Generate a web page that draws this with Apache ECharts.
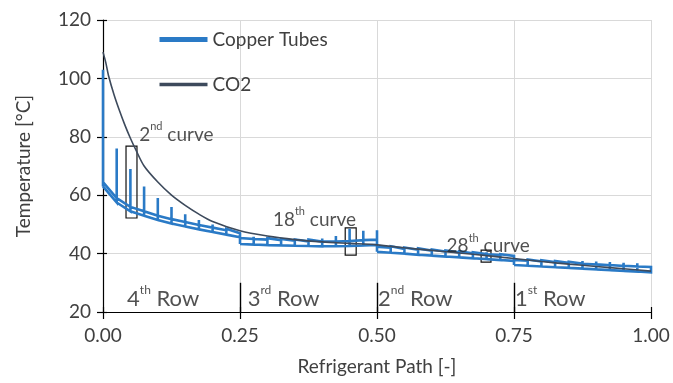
<!DOCTYPE html>
<html><head><meta charset="utf-8">
<script src="https://cdn.jsdelivr.net/npm/echarts@6/dist/echarts.min.js"></script>
<style>html,body{margin:0;padding:0;background:#fff}#c{width:673px;height:383px}</style>
</head><body><div id="c"></div>
<script>
// ---- data ----
const xTicks = [0, 0.25, 0.5, 0.75, 1.0];
const yTicks = [20, 40, 60, 80, 100, 120];
const bendX = [0.000,0.025,0.050,0.075,0.100,0.125,0.150,0.175,0.200,0.225,
               0.250,0.275,0.300,0.325,0.350,0.375,0.400,0.425,0.450,0.475,
               0.500,0.525,0.550,0.575,0.600,0.625,0.650,0.675,0.700,0.725,
               0.750,0.775,0.800,0.825,0.850,0.875,0.900,0.925,0.950,0.975,1.000];
// copper tube temperature per row: lower / upper band at bends, peak at bend (curve)
const row4Lower = [63, 57.5, 54.5, 53, 51.5, 50.3, 49.3, 48.3, 47.4, 46.5, 45.6];
const row4Upper = [64.5, 59, 56, 54.5, 53, 51.8, 50.8, 49.8, 48.9, 48, 47];
const row4Peak  = [103, 76, 69, 63, 59, 56, 53.5, 51.5, 50, 48.5];
const row3Lower = [43.3, 43.1, 42.9, 42.8, 42.7, 42.6, 42.5, 42.5, 42.6, 42.8, 43];
const row3Upper = [45.3, 45, 44.8, 44.6, 44.4, 44.2, 44.1, 44.1, 44.3, 44.6, 44.8];
const row3Peak  = [47, 45.8, 45.3, 45, 44.8, 44.8, 45.2, 46, 48.5, 47.8];
const row2Lower = [40.6, 40.3, 40, 39.6, 39.3, 39, 38.7, 38.4, 38.1, 37.8, 37.5];
const row2Upper = [42.3, 42, 41.6, 41.3, 41, 40.7, 40.4, 40.1, 39.8, 39.5, 39.2];
const row2Peak  = [48, 42.5, 42.1, 41.8, 41.4, 41.1, 40.8, 40.5, 40.5, 39.8];
const row1Lower = [36.1, 35.85, 35.6, 35.35, 35.1, 34.85, 34.6, 34.35, 34.1, 33.85, 33.6];
const row1Upper = [37.8, 37.55, 37.3, 37.05, 36.8, 36.55, 36.3, 36.05, 35.8, 35.6, 35.4];
const row1Peak  = [39.2, 38, 37.7, 37.5, 37.2, 37.5, 37.3, 37.1, 36.9, 36.7];
// CO2 temperature
const co2X = [0, 0.005, 0.01, 0.02, 0.03, 0.04, 0.05, 0.06, 0.075, 0.1, 0.125, 0.15, 0.175, 0.2,
              0.25, 0.3, 0.35, 0.4, 0.45, 0.5, 0.55, 0.6, 0.65, 0.7, 0.75, 0.8, 0.85, 0.9, 0.95, 1.0];
const co2T = [109, 105.5, 101, 94.5, 89, 84, 79.5, 75.5, 70, 64.5, 60, 56.5, 53.5, 51,
              47.8, 46, 44.8, 44, 43.5, 43, 42, 41.1, 40.2, 39.3, 38.3, 37.3, 36.4, 35.6, 34.8, 34];
// row labels
const rowLabels = ['{n|4}{s|th}{n| Row}', '{n|3}{s|rd}{n| Row}', '{n|2}{s|nd}{n| Row}', '{n|1}{s|st}{n| Row}'];
const rowLabelX = [0.044, 0.264, 0.502, 0.752];
const rowLabelY = [25.2, 25.2, 25.2, 25.2];
const rowDividerX = [0.25, 0.5, 0.75];
const rowDividerTop = 30;
// curve annotations
const noteTexts = ['{n|2}{s|nd}{n| curve}', '{n|18}{s|th}{n| curve}', '{n|28}{s|th}{n| curve}'];
const noteX = [0.066, 0.31, 0.627];
const noteY = [81.5, 52.3, 43.2];
const boxX0 = [0.042, 0.442, 0.69];
const boxX1 = [0.062, 0.462, 0.708];
const boxY0 = [52.2, 39.5, 37.1];
const boxY1 = [76.8, 48.8, 41.2];

// ---- build ----
const rowsL = [row4Lower, row3Lower, row2Lower, row1Lower];
const rowsU = [row4Upper, row3Upper, row2Upper, row1Upper];
const rowsP = [row4Peak, row3Peak, row2Peak, row1Peak];
const copper = [];
for (let r = 0; r < 4; r++) {
  const X = bendX.slice(r * 10, r * 10 + 11), L = rowsL[r], U = rowsU[r], P = rowsP[r];
  for (let j = 0; j < 10; j++) {
    const a = X[j], b = X[j + 1];
    copper.push([a, L[j]], [a, P[j]], [a, U[j]], [b, U[j + 1]], [b, L[j + 1]], [a, L[j]], [b, L[j + 1]]);
  }
}
const co2 = co2X.map((x, i) => [x, co2T[i]]);
const FONT = 'Lato';
const txt = '#404040';
const rich = (size, sup) => ({
  n: {fontSize: size, fontFamily: FONT, color: '#262626', verticalAlign: 'bottom', lineHeight: size + 4},
  s: {fontSize: sup, fontFamily: FONT, color: '#262626', verticalAlign: 'top', lineHeight: sup + 2}
});

const chart = echarts.init(document.getElementById('c'), null, {renderer: 'canvas'});
chart.setOption({
  animation: false,
  backgroundColor: '#fff',
  grid: {left: 103, right: 22, top: 20, bottom: 71, containLabel: false},
  legend: {
    orient: 'vertical', left: 152, top: 25, itemWidth: 48, itemHeight: 14, itemGap: 26,
    textStyle: {fontFamily: FONT, fontSize: 19, color: txt},
    data: [
      {name: 'Copper Tubes', lineStyle: {width: 5}, itemStyle: {opacity: 0}},
      {name: 'CO2', lineStyle: {width: 3.5}, itemStyle: {opacity: 0}}
    ]
  },
  xAxis: [{
    type: 'value', min: 0, max: 1, interval: 0.25,
    name: 'Refrigerant Path [-]', nameLocation: 'middle', nameGap: 45,
    nameTextStyle: {fontFamily: FONT, fontSize: 19, color: txt},
    axisLine: {show: true, lineStyle: {color: '#000', width: 1.2}},
    axisTick: {show: true, length: 7, lineStyle: {color: '#000', width: 1.2}},
    axisLabel: {fontFamily: FONT, fontSize: 19, color: txt, margin: 14,
      formatter: v => v.toFixed(2)},
    splitLine: {show: true, lineStyle: {color: '#d9d9d9', width: 1}}
  }, {
    type: 'value', min: 0, max: 1, interval: 0.25, position: 'bottom',
    axisLine: {show: false}, axisLabel: {show: false}, splitLine: {show: false},
    axisTick: {show: true, inside: true, length: 5, lineStyle: {color: '#000', width: 1.2}}
  }],
  yAxis: [{
    type: 'value', min: 20, max: 120, interval: 20,
    name: 'Temperature [°C]', nameLocation: 'middle', nameGap: 70,
    nameTextStyle: {fontFamily: FONT, fontSize: 19, color: txt},
    axisLine: {show: true, lineStyle: {color: '#000', width: 1.2}},
    axisTick: {show: true, length: 6, lineStyle: {color: '#000', width: 1.2}},
    axisLabel: {fontFamily: FONT, fontSize: 19, color: txt, margin: 12},
    splitLine: {show: true, lineStyle: {color: '#d9d9d9', width: 1}}
  }, {
    type: 'value', min: 20, max: 120, interval: 20, position: 'left',
    axisLine: {show: false}, axisLabel: {show: false}, splitLine: {show: false},
    axisTick: {show: true, inside: true, length: 4, lineStyle: {color: '#000', width: 1.2}}
  }],
  series: [
    {
      name: 'Copper Tubes', type: 'line', data: copper, showSymbol: false, symbol: 'none',
      lineStyle: {color: '#2a7ac6', width: 2.6, join: 'miter'}, itemStyle: {color: '#2a7ac6'}, z: 3,
      markLine: {
        silent: true, symbol: 'none', label: {show: false},
        lineStyle: {color: '#000', width: 1.4, type: 'solid'},
        data: rowDividerX.map(x => [{coord: [x, 20]}, {coord: [x, rowDividerTop]}])
      }
    },
    {
      name: 'CO2', type: 'line', data: co2, smooth: 0.3, showSymbol: false, symbol: 'none',
      lineStyle: {color: '#3d4a5c', width: 1.6}, itemStyle: {color: '#3d4a5c'}, z: 4
    },
    {
      name: 'rows', type: 'scatter', symbolSize: 0, silent: true, z: 5,
      data: rowLabelX.map((x, i) => ({value: [x, rowLabelY[i]], label: {formatter: rowLabels[i]}})),
      label: {show: true, position: 'right', distance: 0, rich: rich(22, 12)}
    },
    {
      name: 'notes', type: 'scatter', symbolSize: 0, silent: true, z: 6,
      data: noteX.map((x, i) => ({value: [x, noteY[i]], label: {formatter: noteTexts[i]}})),
      label: {show: true, position: 'right', distance: 0, rich: rich(19, 11)},
      markArea: {
        silent: true,
        itemStyle: {color: 'rgba(0,0,0,0)', borderColor: '#111', borderWidth: 1.2},
        data: boxX0.map((x, i) => [{coord: [x, boxY0[i]]}, {coord: [boxX1[i], boxY1[i]]}])
      }
    }
  ]
});
</script></body></html>
